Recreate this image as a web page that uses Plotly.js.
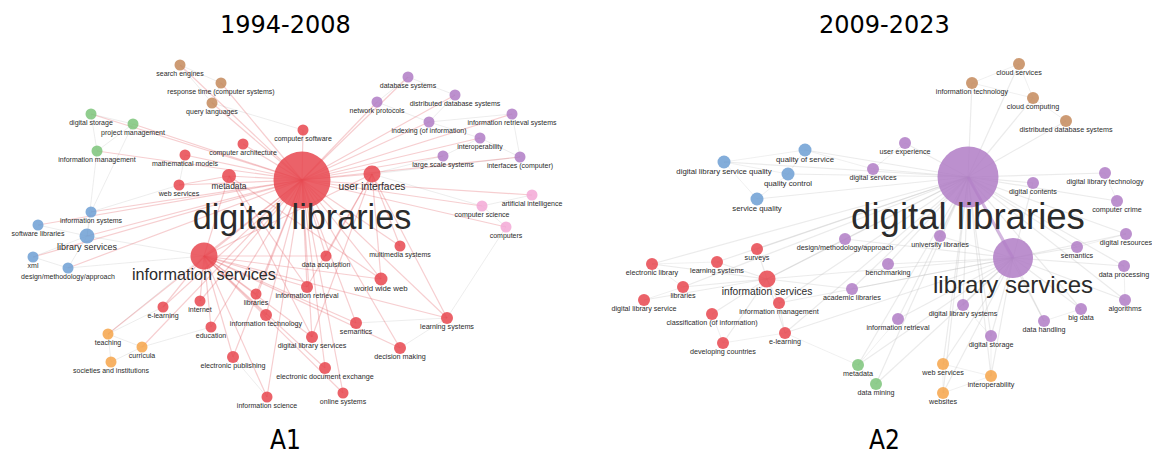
<!DOCTYPE html>
<html><head><meta charset="utf-8">
<script src="https://cdn.plot.ly/plotly-3.0.1.min.js"></script>
<style>html,body{margin:0;padding:0;background:#fff}#chart{width:1152px;height:454px}</style>
</head><body><div id="chart"></div>
<script>
// ---------- Panel A1 (1994-2008): node layout coordinates, weights, clusters ----------
const a1Names = ["digital libraries","information services","user interfaces","metadata","world wide web","computer software","computer architecture","mathematical models","web services","data acquisition","multimedia systems","information retrieval","learning systems","semantics","digital library services","decision making","electronic document exchange","online systems","information science","electronic publishing","education","libraries","information technology","internet","e-learning","search engines","response time (computer systems)","query languages","digital storage","project management","information management","information systems","software libraries","library services","xml","design/methodology/approach","teaching","curricula","societies and institutions","database systems","distributed database systems","network protocols","indexing (of information)","information retrieval systems","interoperability","large scale systems","interfaces (computer)","artificial intelligence","computer science","computers"];
const a1X = [302,204,372,229,381,303,243,185,179,326,400,307,447,356,312,400,325,343,267,233,211,256,266,200,163,180,221,212,91,133,97,91,38,87,33,68,108,142,111,408,455,377,429,512,480,443,520,532,482,506];
const a1Y = [180,256,174,176,279,130,144,155,185,256,246,287,318,323,337,348,368,393,397,357,327,294,315,301,307,65,83,103,114,124,151,212,225,236,257,268,334,347,362,77,95,102,122,114,138,156,157,195,206,227];
const a1Weight = [57,27,17,14,13,11,11,11,11,11,11,12,12,12,12,12,12,11,11,12,11,11,12,11,11,11,11,11,11,11,11,11,11,15,11,11,11,11,11,11,11,11,11,11,11,11,11,11,11,11];
const a1Cluster = ["R","R","R","R","R","R","R","R","R","R","R","R","R","R","R","R","R","R","R","R","R","R","R","R","R","N","N","N","G","G","G","B","B","B","B","B","O","O","O","P","P","P","P","P","P","P","P","K","K","K"];
const a1HubLinks = {
  "digital libraries": ["computer software","computer architecture","mathematical models","metadata","web services","user interfaces","information services","data acquisition","information retrieval","world wide web","multimedia systems","learning systems","semantics","digital library services","electronic document exchange","online systems","information science","electronic publishing","education","libraries","information technology","internet","e-learning","decision making","library services","information systems","software libraries","xml","design/methodology/approach","network protocols","database systems","indexing (of information)","interoperability","large scale systems","search engines","query languages","response time (computer systems)","project management","digital storage","information management","computer science","artificial intelligence","computers","interfaces (computer)","teaching","curricula","information retrieval systems","distributed database systems"],
  "information services": ["libraries","information technology","internet","e-learning","education","electronic publishing","information science","information retrieval","digital library services","learning systems","world wide web","data acquisition","semantics","electronic document exchange","online systems","metadata","user interfaces","decision making"],
  "user interfaces": ["world wide web","learning systems","multimedia systems","information retrieval","data acquisition","digital library services"],
  "metadata": ["web services","information retrieval","digital library services","world wide web"]
};
const a1OtherLinks = [["search engines","response time (computer systems)"],["response time (computer systems)","query languages"],["search engines","query languages"],["query languages","computer software"],["digital storage","project management"],["digital storage","information management"],["project management","information management"],["information management","library services"],["information systems","library services"],["software libraries","library services"],["xml","library services"],["design/methodology/approach","library services"],["xml","design/methodology/approach"],["information systems","web services"],["teaching","curricula"],["teaching","societies and institutions"],["curricula","societies and institutions"],["teaching","e-learning"],["curricula","education"],["database systems","network protocols"],["database systems","distributed database systems"],["distributed database systems","indexing (of information)"],["indexing (of information)","information retrieval systems"],["indexing (of information)","interoperability"],["interoperability","interfaces (computer)"],["network protocols","indexing (of information)"],["large scale systems","interoperability"],["information retrieval systems","interfaces (computer)"],["artificial intelligence","computer science"],["computer science","computers"],["user interfaces","computer science"],["user interfaces","interfaces (computer)"],["user interfaces","large scale systems"],["computers","learning systems"],["learning systems","semantics"],["learning systems","decision making"],["electronic publishing","information science"],["information systems","project management"],["web services","mathematical models"],["library services","information services"],["design/methodology/approach","information services"],["teaching","information services"]];

// ---------- Panel A2 (2009-2023) ----------
const a2Names = ["digital libraries","library services","user experience","digital services","digital contents","digital library technology","computer crime","design/methodology/approach","university libraries","benchmarking","academic libraries","semantics","digital resources","data processing","algorithms","big data","digital library systems","data handling","information retrieval","digital storage","cloud services","information technology","cloud computing","distributed database systems","quality of service","digital library service quality","quality control","service quality","information services","surveys","electronic library","learning systems","libraries","digital library service","information management","classification (of information)","e-learning","developing countries","metadata","data mining","web services","interoperability","websites"];
const a2X = [968,1013,905,873,1033,1105,1117,845,940,888,852,1077,1126,1124,1125,1081,963,1044,898,991,1019,972,1033,1066,805,724,788,757,767,757,652,717,683,644,779,712,785,723,858,876,943,991,943];
const a2Y = [177,258,143,169,183,173,201,239,236,264,289,247,234,266,300,309,305,321,319,336,64,83,98,121,150,162,174,199,279,249,264,262,287,300,303,314,333,343,365,384,364,376,393];
const a2Weight = [61,40,12,12,12,12,12,12,12,12,12,12,12,12,12,12,12,12,12,12,12,12,12,12,13,13,13,13,17,12,12,12,12,12,12,12,12,12,12,12,12,12,12];
const a2Cluster = ["P","P","P","P","P","P","P","P","P","P","P","P","P","P","P","P","P","P","P","P","N","N","N","N","B","B","B","B","R","R","R","R","R","R","R","R","R","R","G","G","O","O","O"];
const a2HubLinks = {
  "digital libraries": ["user experience","digital services","digital contents","digital library technology","computer crime","design/methodology/approach","university libraries","benchmarking","academic libraries","semantics","digital resources","data processing","algorithms","big data","digital library systems","data handling","information retrieval","digital storage","cloud services","information technology","cloud computing","distributed database systems","quality of service","quality control","service quality","information services","surveys","electronic library","learning systems","libraries","information management","e-learning","metadata","data mining","web services","interoperability","websites","digital library service quality"],
  "library services": ["university libraries","benchmarking","academic libraries","semantics","digital resources","data processing","algorithms","big data","digital library systems","data handling","information retrieval","digital storage","information services","web services","interoperability","websites","metadata","data mining","design/methodology/approach","digital contents","e-learning","information management"],
  "information services": ["surveys","electronic library","learning systems","libraries","digital library service","information management","classification (of information)","e-learning","developing countries","design/methodology/approach","academic libraries"]
};
const a2OtherLinks = [["cloud services","information technology"],["cloud services","cloud computing"],["cloud computing","distributed database systems"],["information technology","cloud computing"],["quality of service","quality control"],["digital library service quality","quality control"],["quality control","service quality"],["digital library service quality","service quality"],["quality of service","digital library service quality"],["quality of service","digital services"],["electronic library","libraries"],["libraries","digital library service"],["electronic library","learning systems"],["classification (of information)","developing countries"],["e-learning","developing countries"],["information management","e-learning"],["metadata","data mining"],["web services","websites"],["web services","interoperability"],["websites","interoperability"],["digital storage","interoperability"],["big data","data handling"],["algorithms","data processing"],["semantics","digital resources"],["metadata","information retrieval"],["e-learning","metadata"],["digital library systems","digital storage"],["user experience","digital services"],["digital library technology","computer crime"]];

const colors = {R:"#E8474F",P:"#B07CC6",B:"#6D9FD3",G:"#7DC47A",O:"#F6A54A",N:"#C48A5C",K:"#F3A8D6"};

function buildPanel(names, xs, ys, w, cl, hubs, others, hubColor, otherColor, specialPair){
  const idx = {}; names.forEach((n,i)=>idx[n]=i);
  const traces = [];
  function lineTrace(pairs, color, width){
    const x=[], y=[];
    pairs.forEach(([a,b])=>{ const i=idx[a], j=idx[b]; if(i===undefined||j===undefined) return; x.push(xs[i],xs[j],null); y.push(ys[i],ys[j],null); });
    return {type:'scatter',mode:'lines',x,y,line:{color,width},hoverinfo:'skip',showlegend:false};
  }
  traces.push(lineTrace(others, otherColor, 1));
  const hubPairs = [];
  Object.keys(hubs).forEach(h=>hubs[h].forEach(t=>hubPairs.push([h,t])));
  traces.push(lineTrace(hubPairs, hubColor, 1.2));
  if(specialPair) traces.push(lineTrace([specialPair.pair], specialPair.color, specialPair.width));
  traces.push({type:'scatter',mode:'markers',x:xs,y:ys,
    marker:{size:w,color:cl.map(c=>colors[c]),opacity:0.85,line:{width:0}},
    text:names,hoverinfo:'text',showlegend:false});
  const fs = w.map(s=>Math.max(7, s*0.6));
  const ly = ys.map((y,i)=>y + w[i]/2 + 0.3*fs[i] + 1.5);
  traces.push({type:'scatter',mode:'text',x:xs,y:ly,text:names,
    textfont:{family:'"Liberation Sans", Arial, sans-serif',size:fs,color:'#2b2b2b'},
    textposition:'middle center',hoverinfo:'skip',showlegend:false});
  return traces;
}

const data = [].concat(
  buildPanel(a1Names,a1X,a1Y,a1Weight,a1Cluster,a1HubLinks,a1OtherLinks,'rgba(226,92,98,0.30)','rgba(190,190,190,0.28)'),
  buildPanel(a2Names,a2X,a2Y,a2Weight,a2Cluster,a2HubLinks,a2OtherLinks,'rgba(190,190,190,0.30)','rgba(200,200,200,0.28)',
    {pair:["digital libraries","library services"],color:'rgba(176,124,198,0.55)',width:3})
);

const titles = ["1994-2008","2009-2023"];
const panelLabels = ["A1","A2"];
const layout = {
  width:1152,height:454,margin:{l:0,r:0,t:0,b:0},
  paper_bgcolor:'#fff',plot_bgcolor:'#fff',
  xaxis:{range:[0,1152],visible:false,fixedrange:true},
  yaxis:{range:[454,0],visible:false,fixedrange:true},
  annotations:[
    {text:titles[0],x:285,y:25,xref:'x',yref:'y',showarrow:false,font:{family:'"DejaVu Sans", sans-serif',size:24,color:'#000'}},
    {text:titles[1],x:884,y:25,xref:'x',yref:'y',showarrow:false,font:{family:'"DejaVu Sans", sans-serif',size:24,color:'#000'}},
    {text:panelLabels[0],x:285,y:440,xref:'x',yref:'y',showarrow:false,font:{family:'"DejaVu Sans Condensed","DejaVu Sans", sans-serif',size:26,color:'#000'}},
    {text:panelLabels[1],x:884,y:440,xref:'x',yref:'y',showarrow:false,font:{family:'"DejaVu Sans Condensed","DejaVu Sans", sans-serif',size:26,color:'#000'}}
  ]
};
Plotly.newPlot('chart',data,layout,{staticPlot:true,displayModeBar:false});
</script></body></html>
